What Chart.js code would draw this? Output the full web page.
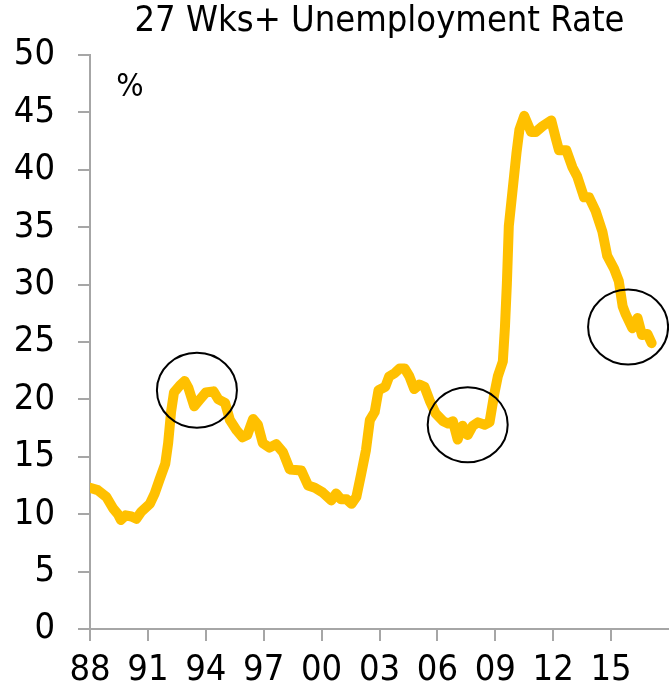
<!DOCTYPE html>
<html>
<head>
<meta charset="utf-8">
<script src="https://cdn.jsdelivr.net/npm/chart.js@4/dist/chart.umd.min.js"></script>
<style>
  html, body { margin: 0; padding: 0; background: #ffffff; }
  #wrap { width: 669px; height: 692px; position: relative; }
</style>
</head>
<body>
<div id="wrap"><canvas id="c" width="669" height="692"></canvas></div>
<script>
// ---- data ----
const titleText = '27 Wks+ Unemployment Rate';
const unitLabel = '%';
const dates = [
  1988.0, 1988.4, 1988.85, 1989.2, 1989.45, 1989.6, 1989.85, 1990.15, 1990.4, 1990.65,
  1991.1, 1991.35, 1991.6, 1991.9, 1992.05, 1992.2, 1992.35, 1992.65, 1992.9, 1993.1,
  1993.4, 1993.7, 1994.0, 1994.4, 1994.65, 1995.0, 1995.25, 1995.6, 1995.9, 1996.15,
  1996.45, 1996.7, 1996.95, 1997.3, 1997.65, 1998.0, 1998.35, 1998.95, 1999.3, 1999.65,
  2000.05, 2000.5, 2000.75, 2001.0, 2001.3, 2001.55, 2001.8, 2002.05, 2002.3, 2002.5,
  2002.75, 2002.95, 2003.3, 2003.5, 2003.8, 2004.05, 2004.3, 2004.55, 2004.8, 2005.07,
  2005.33, 2005.6, 2005.9, 2006.3, 2006.55, 2006.8, 2007.05, 2007.3, 2007.57, 2007.83,
  2008.1, 2008.45, 2008.7, 2008.95, 2009.13, 2009.39, 2009.5, 2009.6, 2009.7, 2009.9,
  2010.1, 2010.25, 2010.5, 2010.85, 2011.1, 2011.45, 2011.9, 2012.14, 2012.3, 2012.68,
  2013.0, 2013.25, 2013.6, 2013.86, 2014.2, 2014.55, 2014.8, 2015.15, 2015.4, 2015.6,
  2015.76, 2016.1, 2016.37, 2016.6, 2016.88, 2017.1
];
const rate = [
  12.3, 12.1, 11.5, 10.5, 10.0, 9.5, 9.9, 9.8, 9.6, 10.2,
  10.9, 11.8, 13.0, 14.4, 16.2, 18.9, 20.6, 21.2, 21.6, 21.0,
  19.4, 20.0, 20.6, 20.7, 20.0, 19.7, 18.2, 17.3, 16.7, 16.9,
  18.3, 17.8, 16.2, 15.8, 16.1, 15.4, 13.9, 13.8, 12.5, 12.3,
  11.9, 11.2, 11.8, 11.3, 11.3, 10.9, 11.5, 13.5, 15.6, 18.2,
  18.9, 20.8, 21.1, 22.0, 22.3, 22.7, 22.7, 22.0, 20.9, 21.3,
  21.1, 19.9, 18.8, 18.1, 17.9, 18.1, 16.5, 17.7, 16.9, 17.7,
  18.0, 17.8, 18.0, 20.5, 22.0, 23.3, 26.3, 30.1, 35.1, 38.3,
  41.5, 43.5, 44.7, 43.3, 43.3, 43.8, 44.3, 42.7, 41.7, 41.7,
  40.2, 39.4, 37.6, 37.6, 36.4, 34.6, 32.5, 31.4, 30.3, 28.1,
  27.4, 26.2, 27.1, 25.6, 25.7, 24.9
];
const tickYears = [1988, 1991, 1994, 1997, 2000, 2003, 2006, 2009, 2012, 2015];
const tickLabels = ['88', '91', '94', '97', '00', '03', '06', '09', '12', '15'];
const yTicks = [0, 5, 10, 15, 20, 25, 30, 35, 40, 45, 50];
// highlighted episodes (centre: year, value)
const highlightYears = [1993.54, 2007.57, 2015.88];
const highlightValues = [20.8, 17.8, 26.3];

// ---- chart ----
const FONT = '"DejaVu Sans Condensed", "DejaVu Sans", sans-serif';
const AXIS = '#a6a6a6';

const overlayPlugin = {
  id: 'overlay',
  afterDatasetsDraw(chart) {
    const { ctx, chartArea, scales } = chart;
    ctx.save();
    ctx.strokeStyle = '#000000';
    ctx.lineWidth = 2;
    for (let i = 0; i < highlightYears.length; i++) {
      const cx = scales.x.getPixelForValue(highlightYears[i]);
      const cy = scales.y.getPixelForValue(highlightValues[i]);
      ctx.beginPath();
      ctx.ellipse(cx, cy, 40, 37.5, 0, 0, Math.PI * 2);
      ctx.stroke();
    }
    ctx.fillStyle = '#000000';
    ctx.font = '32px ' + FONT;
    ctx.textAlign = 'center';
    ctx.textBaseline = 'middle';
    ctx.fillText(unitLabel, chartArea.left + 40, chartArea.top + 33);
    ctx.restore();
  }
};

new Chart(document.getElementById('c'), {
  type: 'line',
  data: {
    datasets: [{
      data: dates.map((d, i) => ({ x: d, y: rate[i] })),
      borderColor: '#FFC000',
      borderWidth: 10,
      borderJoinStyle: 'round',
      borderCapStyle: 'round',
      pointRadius: 0,
      tension: 0,
      fill: false
    }]
  },
  options: {
    responsive: false,
    animation: false,
    layout: { padding: { left: 0, right: 0, top: 0, bottom: 0 } },
    plugins: {
      legend: { display: false },
      tooltip: { enabled: false },
      title: {
        display: true,
        text: titleText,
        fullSize: false,
        color: '#000000',
        font: { family: FONT, size: 36, weight: 'normal', lineHeight: 1.2 },
        padding: { top: 0, bottom: 11.8 }
      }
    },
    scales: {
      x: {
        type: 'linear',
        min: 1988,
        max: 2018,
        afterBuildTicks(scale) { scale.ticks = tickYears.map(v => ({ value: v })); },
        afterFit(scale) { scale.height = 63; },
        ticks: {
          autoSkip: false,
          maxRotation: 0,
          padding: 8,
          color: '#000000',
          font: { family: FONT, size: 36, lineHeight: 1.2 },
          callback(value) { const i = tickYears.indexOf(value); return i >= 0 ? tickLabels[i] : ''; }
        },
        grid: { display: true, drawOnChartArea: false, drawTicks: true, tickLength: 12, color: AXIS, lineWidth: 2 },
        border: { display: true, color: AXIS, width: 2 }
      },
      y: {
        min: 0,
        max: 50,
        afterBuildTicks(scale) { scale.ticks = yTicks.map(v => ({ value: v })); },
        afterFit(scale) { scale.width = 90; },
        ticks: {
          padding: 23,
          color: '#000000',
          font: { family: FONT, size: 36, lineHeight: 1.2 }
        },
        grid: { display: true, drawOnChartArea: false, drawTicks: true, tickLength: 12, color: AXIS, lineWidth: 2 },
        border: { display: true, color: AXIS, width: 2 }
      }
    }
  },
  plugins: [overlayPlugin]
});
</script>
</body>
</html>
